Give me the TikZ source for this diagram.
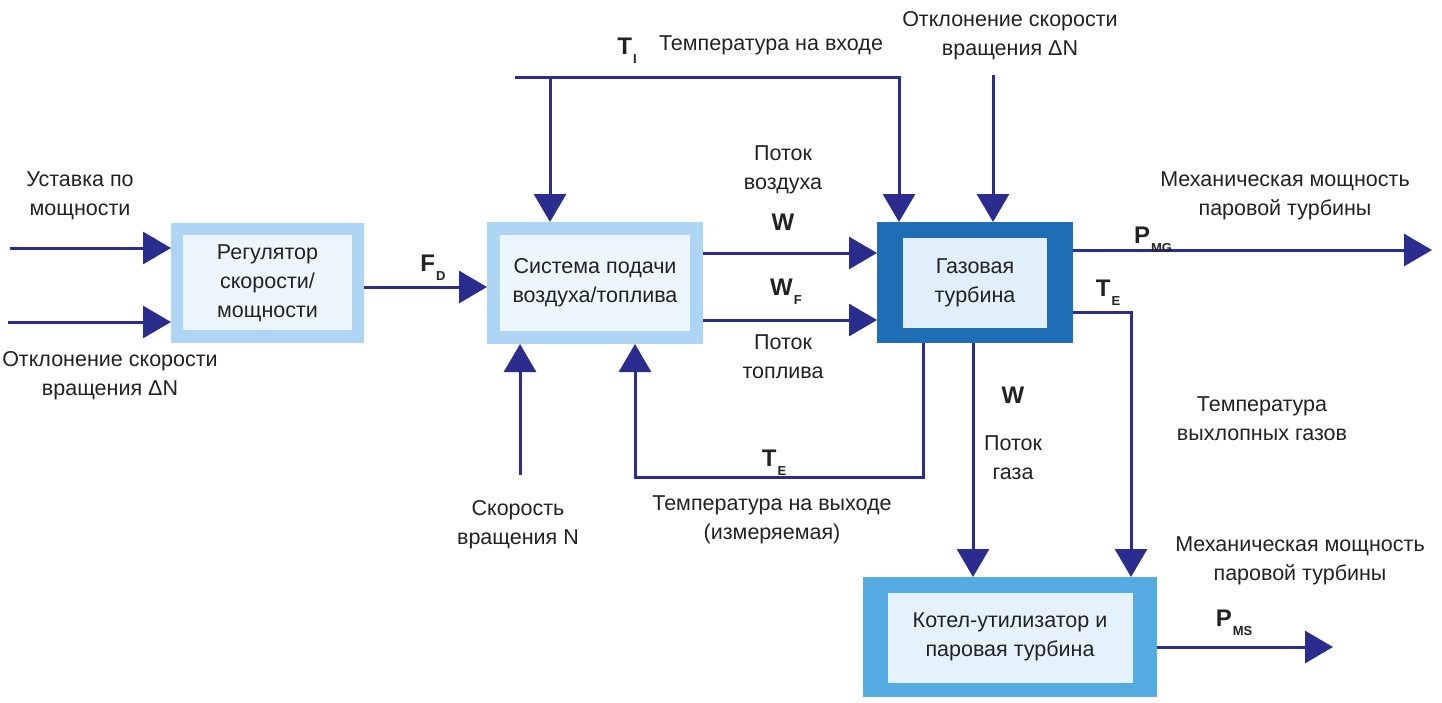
\documentclass[tikz,border=0pt]{standalone}
\usepackage{fontspec}
\setmainfont{Liberation Sans}
\usetikzlibrary{arrows.meta,calc}
\definecolor{navy}{HTML}{2A2D8E}
\definecolor{txtc}{HTML}{222222}
\definecolor{regB}{HTML}{AED5F3}
\definecolor{regI}{HTML}{EEF6FD}
\definecolor{gtB}{HTML}{1E6DB5}
\definecolor{gtI}{HTML}{E0EFFA}
\definecolor{boB}{HTML}{55ACE2}
\definecolor{boI}{HTML}{E5F2FB}
\newcommand{\lsub}[2]{#1\kern1pt\raisebox{-0.7ex}{\fontsize{13}{13}\selectfont #2}}
\begin{document}
\begin{tikzpicture}[x=1pt,y=-1pt,
  conn/.style={draw=navy,line width=3pt},
  arr/.style={conn,-{Triangle[length=28pt,width=32pt]}},
  txt/.style={font=\fontsize{21.5}{29}\selectfont,align=center,inner sep=0pt,text=txtc},
  sym/.style={font=\fontsize{24}{28}\selectfont\bfseries,inner sep=0pt,text=txtc},
  boxbg/.style={inner sep=0pt,outer sep=0pt}]
\useasboundingbox[fill=white] (0,0) rectangle (1442,702);

% boxes
\node[boxbg,fill=regB,minimum width=193pt,minimum height=120pt] (reg) at (267.5,283) {};
\fill[regI] ($(reg.north west)+(12,12)$) rectangle ($(reg.south east)+(-12,-13)$);
\node[txt] (regt) at (reg.center) {Регулятор\\скорости/\\мощности};

\node[boxbg,fill=regB,minimum width=216pt,minimum height=122pt] (sys) at (595,283) {};
\fill[regI] ($(sys.north west)+(13,13)$) rectangle ($(sys.south east)+(-13,-13)$);
\node[txt] (syst) at (sys.center) {Система подачи\\воздуха/топлива};

\node[boxbg,fill=gtB,minimum width=196pt,minimum height=121pt] (gt) at (975,282.5) {};
\fill[gtI] ($(gt.north west)+(26,16)$) rectangle ($(gt.south east)+(-26,-15)$);
\node[txt] (gtt) at (gt.center) {Газовая\\турбина};

\node[boxbg,fill=boB,minimum width=294pt,minimum height=120pt] (boil) at (1010,637) {};
\fill[boI] ($(boil.north west)+(25,16)$) rectangle ($(boil.south east)+(-24,-14)$);
\node[txt] (boilt) at (boil.center) {Котел-утилизатор и\\паровая турбина};

% coordinates
\coordinate (in1) at (10,248);
\coordinate (in2) at (8,322);
\coordinate (fd) at (0,287);
\coordinate (w) at (0,253);
\coordinate (wf) at (0,320);
\coordinate (ti) at (515,77);
\coordinate (tiA) at (550,77);
\coordinate (tiB) at (899,77);
\coordinate (dn) at (993,75);
\coordinate (n) at (520,475);
\coordinate (te1) at (923,477);
\coordinate (te2) at (635,477);
\coordinate (wg) at (973,0);
\coordinate (tex) at (1131,312);
\coordinate (pmg) at (1432,250);
\coordinate (pms) at (1333,647);

% connectors
\draw[arr] (in1) -- (in1 -| reg.west);
\draw[arr] (in2) -- (in2 -| reg.west);
\draw[arr] (fd -| reg.east) -- (fd -| sys.west);
\draw[arr] (w -| sys.east) -- (w -| gt.west);
\draw[arr] (wf -| sys.east) -- (wf -| gt.west);
\draw[arr] (ti) -- (tiB) -- (tiB |- gt.north);
\draw[arr] (tiA) -- (tiA |- sys.north);
\draw[arr] (dn) -- (dn |- gt.north);
\draw[arr] (n) -- (n |- sys.south);
\draw[arr] (te1 |- gt.south) -- (te1) -- (te2) -- (te2 |- sys.south);
\draw[arr] (wg |- gt.south) -- (wg |- boil.north);
\draw[arr] (tex -| gt.east) -- (tex) -- (tex |- boil.north);
\draw[arr] (pmg -| gt.east) -- (pmg);
\draw[arr] (pms -| boil.east) -- (pms);

% labels
\node[txt] (l1) at (80,196) {Уставка по\\мощности};
\node[txt] (l2) at (110,376) {Отклонение скорости\\вращения ΔN};
\node[sym] (lfd) at (433,268) {\lsub{F}{D}};
\node[sym] (lti) at (627,51) {\lsub{T}{I}};
\node[txt] (lti2) at (771,45) {Температура на входе};
\node[txt] (ldn) at (1010,36) {Отклонение скорости\\вращения ΔN};
\node[txt] (lair) at (783,170) {Поток\\воздуха};
\node[sym] (lw) at (783,222) {W};
\node[sym] (lwf) at (786,292) {\lsub{W}{F}};
\node[txt] (lfuel) at (783,357) {Поток\\топлива};
\node[sym] (lpmg) at (1153,240) {\lsub{P}{MG}};
\node[txt] (lmech1) at (1285,196) {Механическая мощность\\паровой турбины};
\node[sym] (lte1) at (1108,293) {\lsub{T}{E}};
\node[txt] (lexh) at (1262,419) {Температура\\выхлопных газов};
\node[sym] (lw2) at (1013,395) {W};
\node[txt] (lgas) at (1013,458) {Поток\\газа};
\node[sym] (lte2) at (774,463) {\lsub{T}{E}};
\node[txt] (lout) at (772,520) {Температура на выходе\\(измеряемая)};
\node[txt] (ln) at (518,525) {Скорость\\вращения N};
\node[txt] (lmech2) at (1300,561) {Механическая мощность\\паровой турбины};
\node[sym] (lpms) at (1234,623) {\lsub{P}{MS}};
\end{tikzpicture}
\end{document}
